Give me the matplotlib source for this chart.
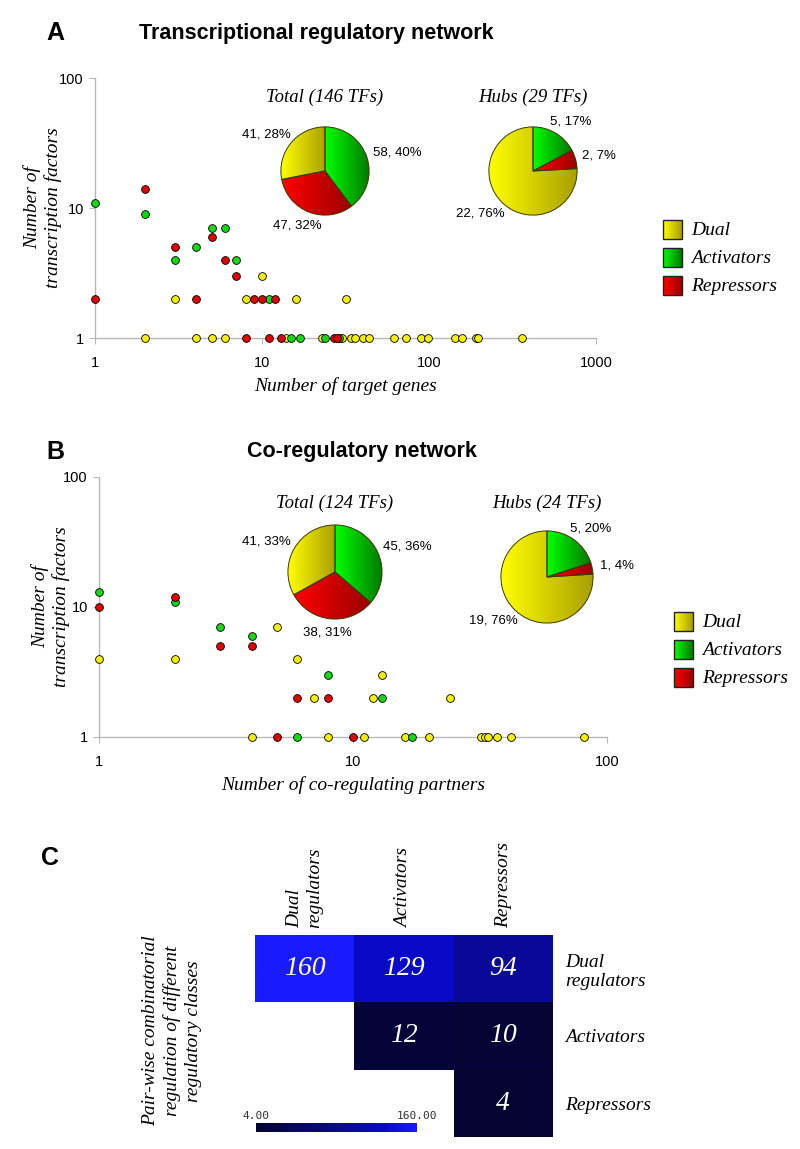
import numpy as np
import matplotlib
matplotlib.use("Agg")
import matplotlib.pyplot as plt
from matplotlib.colors import LinearSegmentedColormap
from matplotlib.patches import Rectangle
from matplotlib.ticker import NullLocator

SERIF = "Liberation Serif"
SANS = "Liberation Sans"

# ---- data -------------------------------------------------------------
classes = ["Dual", "Activators", "Repressors"]

# panel A: transcriptional regulatory network (x = target genes, y = number of TFs)
dual_a_x = [2, 3, 4, 5, 6, 8, 10, 14, 16, 23, 30, 32, 34, 36, 40, 44, 62, 73, 90, 98, 143, 158, 190, 197, 360]
dual_a_y = [1, 2, 1, 1, 1, 2, 3, 1, 2, 1, 1, 2, 1, 1, 1, 1, 1, 1, 1, 1, 1, 1, 1, 1, 1]
act_a_x = [1, 2, 3, 4, 5, 6, 7, 11, 15, 17, 24, 29]
act_a_y = [11, 9, 4, 5, 7, 7, 4, 2, 1, 1, 1, 1]
rep_a_x = [1, 2, 3, 4, 5, 6, 7, 8, 9, 10, 11, 12, 13, 27, 28]
rep_a_y = [2, 14, 5, 2, 6, 4, 3, 1, 2, 2, 1, 2, 1, 1, 1]

# panel B: co-regulatory network (x = co-regulating partners)
dual_b_x = [1, 2, 5, 6, 13, 7, 12, 24, 4, 8, 11, 16, 20, 32, 33, 34, 37, 42, 81]
dual_b_y = [4, 4, 7, 4, 3, 2, 2, 2, 1, 1, 1, 1, 1, 1, 1, 1, 1, 1, 1]
act_b_x = [1, 2, 3, 4, 8, 13, 6, 17]
act_b_y = [13, 11, 7, 6, 3, 2, 1, 1]
rep_b_x = [1, 2, 3, 4, 6, 8, 5, 10]
rep_b_y = [10, 12, 5, 5, 2, 2, 1, 1]

# pies, slice order: activators, repressors, dual
pie_total_a = [58, 47, 41]
pie_hubs_a = [5, 2, 22]
pie_total_b = [45, 38, 41]
pie_hubs_b = [5, 1, 19]
pie_titles_a = ["Total (146 TFs)", "Hubs (29 TFs)"]
pie_titles_b = ["Total (124 TFs)", "Hubs (24 TFs)"]

# panel C: pair-wise combinatorial regulation
heat_cols = ["Dual\nregulators", "Activators", "Repressors"]
heat_rows = ["Dual\nregulators", "Activators", "Repressors"]
heat_vals = [[160, 129, 94],
             [np.nan, 12, 10],
             [np.nan, np.nan, 4]]

# ---- styling ----------------------------------------------------------
point_colors = {"Dual": "#f2f200", "Activators": "#12d812", "Repressors": "#e00000"}
grad_colors = {"Dual": ("#ffff00", "#a89f00"),
               "Activators": ("#00ff00", "#007800"),
               "Repressors": ("#ff0000", "#9a0000")}
pie_order = ["Activators", "Repressors", "Dual"]

W, H = 800, 1149
fig = plt.figure(figsize=(W / 100, H / 100), dpi=100)
renderer = fig.canvas.get_renderer()


def box(x0, y0, w, h):
    return [x0 / W, 1 - (y0 + h) / H, w / W, h / H]


# overlay axes in pixel coordinates for free text / legends
ov = fig.add_axes([0, 0, 1, 1])
ov.set_xlim(0, W)
ov.set_ylim(H, 0)
ov.axis("off")


def grad_cmap(name):
    return LinearSegmentedColormap.from_list(name, grad_colors[name])


def legend(x0, y0, size=19, step=28):
    for i, name in enumerate(classes):
        y = y0 + i * step
        ov.imshow(np.linspace(0, 1, 64)[None, :], cmap=grad_cmap(name), aspect="auto",
                  extent=(x0, x0 + size, y + size, y), zorder=2)
        ov.add_patch(Rectangle((x0, y), size, size, fill=False, ec="#222222", lw=1, zorder=3))
        ov.text(x0 + size + 9, y + size / 2 + 1, name, family=SERIF, style="italic",
                fontsize=14, va="center", ha="left")
    ov.set_xlim(0, W)
    ov.set_ylim(H, 0)


def scatter_panel(rect, xmax, series, xlabel, ylab_pad):
    ax = fig.add_axes(box(*rect))
    for name, (xs, ys) in zip(classes, series):
        ax.plot(xs, ys, "o", ms=5.6, mfc=point_colors[name], mec="black", mew=0.6,
                ls="none", clip_on=False, zorder=3)
    ax.set_xscale("log")
    ax.set_yscale("log")
    ax.set_xlim(1, xmax)
    ax.set_ylim(1, 100)
    xt = [10 ** i for i in range(int(round(np.log10(xmax))) + 1)]
    ax.set_xticks(xt)
    ax.set_xticklabels([str(t) for t in xt])
    ax.set_yticks([1, 10, 100])
    ax.set_yticklabels(["1", "10", "100"])
    ax.xaxis.set_minor_locator(NullLocator())
    ax.yaxis.set_minor_locator(NullLocator())
    for s in ["top", "right"]:
        ax.spines[s].set_visible(False)
    for s in ["left", "bottom"]:
        ax.spines[s].set_color("#b8b8b8")
        ax.spines[s].set_linewidth(1)
    ax.tick_params(axis="both", color="#b8b8b8", length=4, labelsize=10.5)
    ax.tick_params(axis="x", pad=9)
    ax.tick_params(axis="y", pad=4)
    for lab in ax.get_xticklabels() + ax.get_yticklabels():
        lab.set_family(SANS)
    ax.set_xlabel(xlabel, family=SERIF, style="italic", fontsize=14, labelpad=5)
    ax.set_ylabel("Number of\ntranscription factors", family=SERIF, style="italic",
                  fontsize=14, labelpad=ylab_pad)
    ax.patch.set_alpha(0)
    return ax


def gradient_pie(cx, cy, r, values, title, title_y, gap=7):
    ax = fig.add_axes(box(cx - r, cy - r, 2 * r, 2 * r))
    wedges, _ = ax.pie(values, startangle=90, counterclock=False, radius=1,
                       wedgeprops=dict(edgecolor="#3a3a00", linewidth=0.7))
    total = sum(values)
    for w, name, v in zip(wedges, pie_order, values):
        w.set_facecolor("none")
        ang = np.radians(np.linspace(w.theta1, w.theta2, 120))
        xs = np.concatenate([np.cos(ang), [0]])
        im = ax.imshow(np.linspace(0, 1, 128)[None, :], cmap=grad_cmap(name), aspect="auto",
                       extent=(xs.min(), xs.max(), -1, 1), zorder=0)
        im.set_clip_path(w)
        # label placed just outside the wedge edge, like an "outside end" label
        mid = np.radians((w.theta1 + w.theta2) / 2)
        dx, dy = np.cos(mid), -np.sin(mid)
        t = ov.text(0, 0, f"{v}, {round(100 * v / total)}%", family=SANS, fontsize=9.5,
                    ha="center", va="center")
        bb = t.get_window_extent(renderer)
        hw, hh = bb.width / 2, bb.height / 2
        t.set_position((cx + (r + gap) * dx + hw * dx, cy + (r + gap) * dy + hh * dy))
    ax.set_xlim(-1.02, 1.02)
    ax.set_ylim(-1.02, 1.02)
    ax.set_aspect("auto")
    ax.axis("off")
    ov.text(cx, title_y, title, family=SERIF, style="italic", fontsize=13.5,
            ha="center", va="center")


# ---- panel A ----------------------------------------------------------
ov.text(55, 33, "A", family=SANS, weight="bold", fontsize=18, ha="center", va="center")
ov.text(316, 33, "Transcriptional regulatory network", family=SANS, weight="bold",
        fontsize=15.5, ha="center", va="center")
scatter_panel((95, 78, 501, 260), 1000,
              [(dual_a_x, dual_a_y), (act_a_x, act_a_y), (rep_a_x, rep_a_y)],
              "Number of target genes", -2)
gradient_pie(325, 171, 45, pie_total_a, pie_titles_a[0], 97)
gradient_pie(533, 171, 45, pie_hubs_a, pie_titles_a[1], 97)
legend(663, 220)

# ---- panel B ----------------------------------------------------------
ov.text(55, 452, "B", family=SANS, weight="bold", fontsize=18, ha="center", va="center")
ov.text(362, 451, "Co-regulatory network", family=SANS, weight="bold",
        fontsize=15.5, ha="center", va="center")
scatter_panel((99, 477, 508, 260), 100,
              [(dual_b_x, dual_b_y), (act_b_x, act_b_y), (rep_b_x, rep_b_y)],
              "Number of co-regulating partners", -5)
gradient_pie(335, 572, 48, pie_total_b, pie_titles_b[0], 503)
gradient_pie(547, 577, 47, pie_hubs_b, pie_titles_b[1], 503)
legend(674, 612)

# ---- panel C ----------------------------------------------------------
ov.text(50, 858, "C", family=SANS, weight="bold", fontsize=18, ha="center", va="center")
hm_cmap = LinearSegmentedColormap.from_list(
    "hm", [(0, "#040430"), (0.55, "#0a0a92"), (0.8, "#0909c4"), (1, "#1a1aff")])
hm_cmap.set_bad((1, 1, 1, 0))
vals = np.ma.masked_invalid(np.array(heat_vals, dtype=float))
vmin, vmax = float(vals.min()), float(vals.max())
axc = fig.add_axes(box(255, 935, 298, 202))
axc.patch.set_visible(False)
im = axc.imshow(vals, cmap=hm_cmap, vmin=vmin, vmax=vmax, aspect="auto")
for i in range(3):
    for j in range(3):
        if not np.ma.is_masked(vals[i, j]):
            axc.text(j, i, f"{int(vals[i, j])}", color="white", family=SERIF, style="italic",
                     fontsize=20, ha="center", va="center")
for s in axc.spines.values():
    s.set_visible(False)
axc.xaxis.tick_top()
axc.set_xticks(range(3))
axc.set_xticklabels(heat_cols, rotation=90, family=SERIF, style="italic", fontsize=14,
                    va="bottom", ha="center", multialignment="left")
axc.yaxis.tick_right()
axc.set_yticks(range(3))
axc.set_yticklabels(heat_rows, family=SERIF, style="italic", fontsize=14, ha="left")
axc.tick_params(length=0, pad=5)
axc.tick_params(axis="y", pad=9)
ov.text(172, 1031, "Pair-wise combinatorial\nregulation of different\nregulatory classes",
        family=SERIF, style="italic", fontsize=14, rotation=90, ha="center", va="center",
        multialignment="center", linespacing=1.3)

cax = fig.add_axes(box(256, 1123, 161, 9))
cb = fig.colorbar(im, cax=cax, orientation="horizontal")
cb.set_ticks([])
cb.outline.set_visible(False)
fig.text(256 / W, 1 - 1116 / H, f"{vmin:.2f}", family="DejaVu Sans Mono", fontsize=8,
         ha="center", va="center", color="#333333")
fig.text(417 / W, 1 - 1116 / H, f"{vmax:.2f}", family="DejaVu Sans Mono", fontsize=8,
         ha="center", va="center", color="#333333")

fig.savefig("out.png", dpi=100, facecolor="white")
